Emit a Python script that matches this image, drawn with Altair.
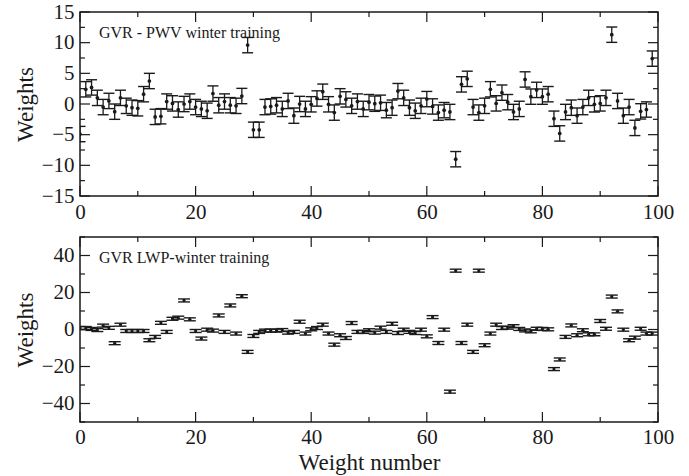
import altair as alt
import pandas as pd

# ---------------- data ----------------
WEIGHT_NUMBER = list(range(100))

PWV_WEIGHTS = [
    -4.9, 2.4, 2.7, 1.0, -0.5, 0.5, -1.25, 1.0, -0.3, -0.6,
    -0.7, 1.6, 3.75, -2.1, -2.0, 0.4, 0.1, -0.9, 0.0, 0.4,
    -0.5, -0.8, -1.1, 1.7, -0.2, 0.4, -0.2, -0.3, 1.3, 9.6,
    -4.2, -4.2, -0.5, -0.4, -0.2, -0.8, 0.5, -1.9, 0.0, -0.8,
    -0.05, 0.9, 2.0, -0.05, -1.4, 1.25, 0.75, -0.3, 0.4, -0.8,
    0.3, 0.05, 0.2, -1.0, -0.6, 2.1, 1.0, -0.6, -1.1, -0.3,
    0.8, -0.4, -1.4, -1.0, -1.3, -9.0, 3.2, 4.1, -0.5, -1.4,
    -0.3, 2.4, 0.1, 1.85, 0.3, -1.3, -0.8, 4.0, 1.2, 2.3,
    1.2, 1.6, -2.4, -4.8, -1.3, -0.6, -1.9, -0.5, 1.0, -0.05,
    0.1, 1.0, 11.3, 0.5, -1.9, -0.5, -3.9, -1.2, -0.9, 7.4,
]
PWV_ERR = 1.25

LWP_WEIGHTS = [
    0.8, 0.8, 0.3, -0.3, 2.1, 0.9, -7.4, 2.6, -0.8, -0.8,
    -0.8, -0.8, -5.8, -4.0, 3.6, -1.3, 5.8, 6.4, 15.7, 5.5,
    -0.8, -4.9, -0.1, -0.6, 7.6, -1.3, 13.0, -2.2, 18.0, -12.1,
    -3.5, -1.3, -0.6, -0.6, -0.6, -0.3, -1.7, -1.3, 4.2, -2.2,
    0.1, 0.8, 2.6, -2.2, -8.2, -3.1, -4.6, 3.5, -1.3, -1.3,
    -0.4, -1.7, 1.0, -1.3, 3.1, -1.9, -0.1, -1.3, -1.9, -0.1,
    -3.7, 6.7, -7.3, -0.1, -33.6, 31.8, -7.3, 2.6, -12.1, 31.8,
    -8.5, -2.2, 2.6, 0.8, 1.0, 1.8, 0.3, -0.5, -1.0, 0.4,
    0.3, 0.1, -21.4, -16.2, -4.0, 2.2, -3.1, -0.4, -2.6, -2.6,
    4.6, 0.4, 17.8, 9.8, -0.1, -5.8, -4.4, 0.4, -2.2, -2.2,
]
LWP_ERR = 0.8

X_MAJOR = [0, 20, 40, 60, 80, 100]
X_MINOR = [10, 30, 50, 70, 90]
PWV_Y_MAJOR = [-15, -10, -5, 0, 5, 10, 15]
PWV_Y_MINOR = [-12.5, -7.5, -2.5, 2.5, 7.5, 12.5]
LWP_Y_MAJOR = [-40, -20, 0, 20, 40]
LWP_Y_MINOR = [-50, -30, -10, 10, 30, 50]

PWV_LABEL = "GVR - PWV winter training"
LWP_LABEL = "GVR LWP-winter training"

# ---------------- styling ----------------
W = 578
FONT = "Liberation Serif, Times New Roman, Times, serif"
INK = "#1a1a1a"
MAJ_LEN = 10
MIN_LEN = 5


def panel(values, err, ydomain, ymajor, yminor, label, xtitle, h, cap, dot, xlabpad):
    df = pd.DataFrame({"n": WEIGHT_NUMBER, "w": values})
    df["lo"] = df["w"] - err
    df["hi"] = df["w"] + err

    xs = alt.Scale(domain=[0, 100], nice=False, zero=False)
    ys = alt.Scale(domain=ydomain, nice=False, zero=False)
    xaxis = alt.Axis(values=X_MAJOR, tickSize=0, domain=False, grid=False,
                     labelPadding=xlabpad, titlePadding=4, format="d",
                     labelOverlap=False, labelFlush=False,
                     labelFont=FONT, titleFont=FONT)
    yaxis = alt.Axis(values=ymajor, tickSize=0, domain=False, grid=False,
                     labelPadding=6, titlePadding=4, format="d",
                     labelOverlap=False, labelFlush=False,
                     labelFont=FONT, titleFont=FONT)

    def X(field):
        return alt.X(field, scale=xs, axis=xaxis, title=xtitle)

    def Y(field):
        return alt.Y(field, scale=ys, axis=yaxis, title="Weights")

    base = alt.Chart(df)
    pts = base.mark_point(filled=True, size=dot, color=INK, opacity=1,
                          clip=True).encode(x=X("n:Q"), y=Y("w:Q"))
    bars = base.mark_rule(clip=True, color=INK, strokeWidth=1.3).encode(
        x=X("n:Q"), y=Y("lo:Q"), y2="hi:Q")
    cap_lo = base.mark_tick(orient="horizontal", size=cap, thickness=1.4,
                            color=INK, clip=True, opacity=1).encode(
        x=X("n:Q"), y=Y("lo:Q"))
    cap_hi = base.mark_tick(orient="horizontal", size=cap, thickness=1.4,
                            color=INK, clip=True, opacity=1).encode(
        x=X("n:Q"), y=Y("hi:Q"))

    layers = [pts, bars, cap_lo, cap_hi]

    # inward ticks on all four sides
    for vals, ln in ((X_MAJOR, MAJ_LEN), (X_MINOR, MIN_LEN)):
        tdf = pd.DataFrame({"n": vals})
        layers.append(alt.Chart(tdf).mark_rule(color=INK, strokeWidth=1.2).encode(
            x=X("n:Q"), y=alt.value(h), y2=alt.value(h - ln)))
        layers.append(alt.Chart(tdf).mark_rule(color=INK, strokeWidth=1.2).encode(
            x=X("n:Q"), y=alt.value(0), y2=alt.value(ln)))
    for vals, ln in ((ymajor, MAJ_LEN), (yminor, MIN_LEN)):
        tdf = pd.DataFrame({"w": vals})
        layers.append(alt.Chart(tdf).mark_rule(color=INK, strokeWidth=1.2).encode(
            y=Y("w:Q"), x=alt.value(0), x2=alt.value(ln)))
        layers.append(alt.Chart(tdf).mark_rule(color=INK, strokeWidth=1.2).encode(
            y=Y("w:Q"), x=alt.value(W), x2=alt.value(W - ln)))

    txt = alt.Chart(pd.DataFrame({"t": [label]})).mark_text(
        align="left", baseline="middle", font=FONT, fontSize=16, color=INK
    ).encode(x=alt.value(19), y=alt.value(21), text="t:N")
    layers.append(txt)

    return alt.layer(*layers).properties(width=W, height=h)


top = panel(PWV_WEIGHTS, PWV_ERR, [-15, 15], PWV_Y_MAJOR, PWV_Y_MINOR,
            PWV_LABEL, None, 184, 11, 14, 5)
bottom = panel(LWP_WEIGHTS, LWP_ERR, [-50, 50], LWP_Y_MAJOR, LWP_Y_MINOR,
               LWP_LABEL, "Weight number", 185, 12, 10, 4)

chart = alt.vconcat(top, bottom, spacing=12).properties(
    padding={"left": 13, "top": 0, "right": 5, "bottom": 0},
    background="white",
).configure(
    font=FONT
).configure_view(
    stroke=INK, strokeWidth=1.5
).configure_axis(
    labelFont=FONT, titleFont=FONT, labelFontSize=21, titleFontSize=23,
    labelColor=INK, titleColor=INK, titleFontWeight="normal",
    labelOverlap=False, labelFlush=False,
)

chart.save("out.html", embed_options={"renderer": "svg", "actions": False})
